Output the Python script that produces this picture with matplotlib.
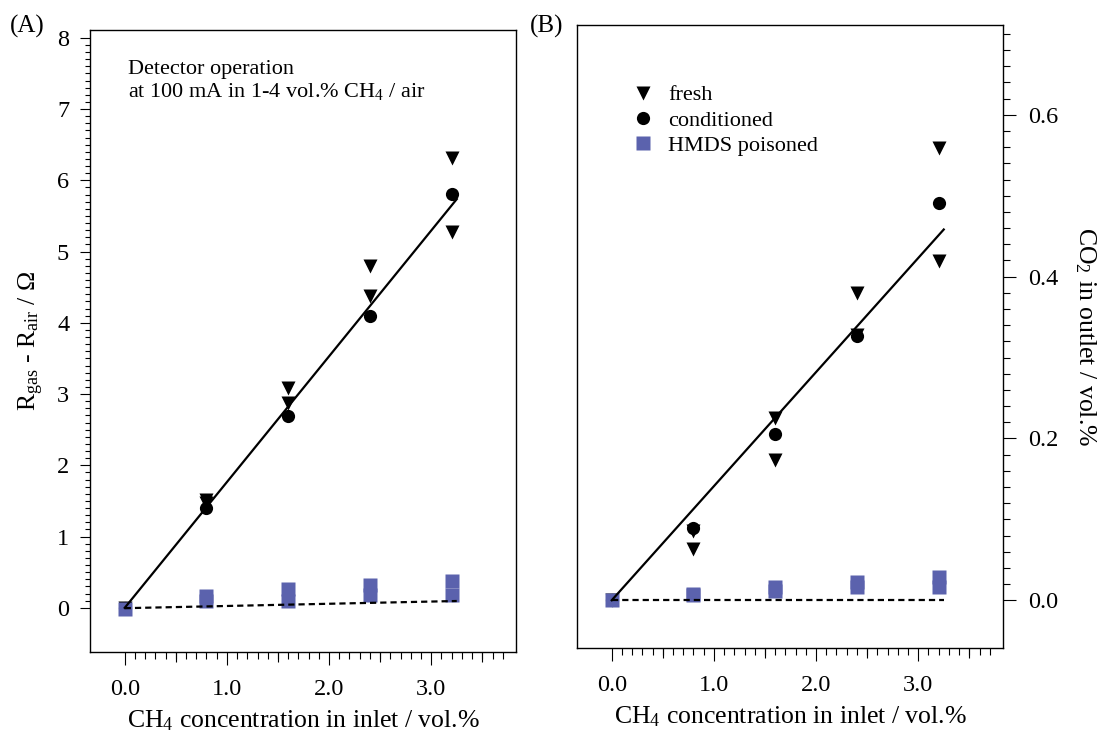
import numpy as np
import matplotlib
matplotlib.use("Agg")
import matplotlib.pyplot as plt
from matplotlib.ticker import FixedLocator

plt.rcParams['font.family'] = ['Liberation Serif', 'DejaVu Serif']
plt.rcParams['mathtext.fontset'] = 'custom'
plt.rcParams['mathtext.rm'] = 'Liberation Serif'
plt.rcParams['mathtext.it'] = 'Liberation Serif:italic'
plt.rcParams['mathtext.bf'] = 'Liberation Serif:bold'

# CH4 concentrations in the inlet (vol.%)
conc = [0.0, 0.8, 1.6, 2.4, 3.2]
conc2 = [0.0, 0.8, 0.8, 1.6, 1.6, 2.4, 2.4, 3.2, 3.2]

# (A) R_gas - R_air in Ohm
fresh_a = [0.0, 1.52, 1.47, 3.09, 2.87, 4.80, 4.38, 6.31, 5.28]
cond_a = [0.0, 1.40, 2.69, 4.10, 5.81]
hmds_a = [-0.01, 0.17, 0.09, 0.26, 0.09, 0.32, 0.185, 0.37, 0.185]

# (B) CO2 in outlet (vol.%)
fresh_b = [0.0, 0.085, 0.063, 0.225, 0.173, 0.380, 0.328, 0.559, 0.419]
cond_b = [0.0, 0.089, 0.205, 0.326, 0.491]
hmds_b = [0.0, 0.008, 0.006, 0.017, 0.011, 0.023, 0.016, 0.029, 0.016]

# linear fits: (slope, intercept)
fit_end = 3.25
fit_a = (1.765, 0.0)
fit_a_hmds = (0.031, -0.005)
fit_b = (0.141, 0.0)
fit_b_hmds = (0.0, 0.0)

blue = '#5b62ad'
W, H = 1100, 733


def draw_panel(ax, fresh, cond, hmds, fit, fit_hmds):
    ax.plot(conc2, fresh, ls='none', marker='v', ms=10.5, color='k',
            mec='none', label='fresh', zorder=3)
    ax.plot(conc, cond, ls='none', marker='o', ms=9.5, color='k',
            mec='none', label='conditioned', zorder=3)
    ax.plot(conc2, hmds, ls='none', marker='s', ms=9.5, color=blue,
            mec='none', label='HMDS poisoned', zorder=4)
    fx = np.array([0.0, fit_end])
    ax.plot(fx, fit[0] * fx + fit[1], color='k', lw=1.6, zorder=5)
    ax.plot(fx, fit_hmds[0] * fx + fit_hmds[1], color='k', lw=1.6,
            dashes=(2.8, 1.8), zorder=5)

    # x axis, Igor style ticks
    ax.set_xlim(-0.34, 3.83)
    ax.xaxis.set_major_locator(FixedLocator([0, 1, 2, 3]))
    ax.set_xticklabels(['0.0', '1.0', '2.0', '3.0'])
    ax.xaxis.set_minor_locator(FixedLocator(np.arange(0, 3.71, 0.1)))
    ax.tick_params(axis='x', which='major', direction='out', length=9.4,
                   width=0.8, labelsize=17.5, pad=10)
    ax.tick_params(axis='x', which='minor', direction='out', length=5,
                   width=0.8)
    sec = ax.secondary_xaxis('bottom')
    sec.set_xticks([0.5, 1.5, 2.5, 3.5])
    sec.tick_params(axis='x', direction='out', length=7, width=0.8,
                    labelbottom=False)
    for s in sec.spines.values():
        s.set_visible(False)
    ax.set_xlabel('CH$_4$ concentration in inlet / vol.%', fontsize=18.5,
                  labelpad=6)
    for s in ax.spines.values():
        s.set_linewidth(1.0)


fig = plt.figure(figsize=(W / 100, H / 100), dpi=100)

# panel A
ax_a = fig.add_axes([90 / W, 1 - 652 / H, 426 / W, 622 / H])
draw_panel(ax_a, fresh_a, cond_a, hmds_a, fit_a, fit_a_hmds)
ax_a.set_ylim(-0.62, 8.11)
ax_a.yaxis.set_major_locator(FixedLocator(range(0, 9)))
ax_a.yaxis.set_minor_locator(FixedLocator(np.arange(0, 8.01, 0.1)))
ax_a.tick_params(axis='y', which='major', direction='out', length=7,
                 width=0.8, labelsize=17.5, pad=8)
ax_a.tick_params(axis='y', which='minor', direction='out', length=3.8,
                 width=0.8)
ax_a.set_ylabel('R$_{\\mathrm{gas}}$ - R$_{\\mathrm{air}}$ / Ω', fontsize=18.5,
                labelpad=8)
ax_a.text(0.089, 0.952,
          'Detector operation\nat 100 mA in 1-4 vol.% CH$_4$ / air',
          transform=ax_a.transAxes, fontsize=16, va='top', ha='left',
          linespacing=1.15)

# panel B
ax_b = fig.add_axes([577 / W, 1 - 648 / H, 426 / W, 623 / H])
draw_panel(ax_b, fresh_b, cond_b, hmds_b, fit_b, fit_b_hmds)
ax_b.set_ylim(-0.059, 0.711)
ax_b.yaxis.tick_right()
ax_b.yaxis.set_label_position('right')
ax_b.yaxis.set_major_locator(FixedLocator([0.0, 0.2, 0.4, 0.6]))
ax_b.set_yticklabels(['0.0', '0.2', '0.4', '0.6'])
ax_b.yaxis.set_minor_locator(FixedLocator(np.arange(0, 0.701, 0.02)))
ax_b.tick_params(axis='y', which='major', direction='out', length=9.4,
                 width=0.8, labelsize=17.5, pad=9)
ax_b.tick_params(axis='y', which='minor', direction='out', length=5,
                 width=0.8)
ax_b.set_ylabel('CO$_2$ in outlet / vol.%', fontsize=18.5, rotation=-90,
                va='bottom', labelpad=10)
ax_b.legend(loc='upper left', bbox_to_anchor=(0.129, 0.904), frameon=False,
            fontsize=16, handlelength=1.0, handletextpad=0.64,
            labelspacing=0.21, borderpad=0, borderaxespad=0, numpoints=1)

fig.text(10 / W, 1 - 26 / H, '(A)', fontsize=18, va='center', ha='left')
fig.text(530 / W, 1 - 26 / H, '(B)', fontsize=18, va='center', ha='left')

fig.savefig('out.png', dpi=100)
